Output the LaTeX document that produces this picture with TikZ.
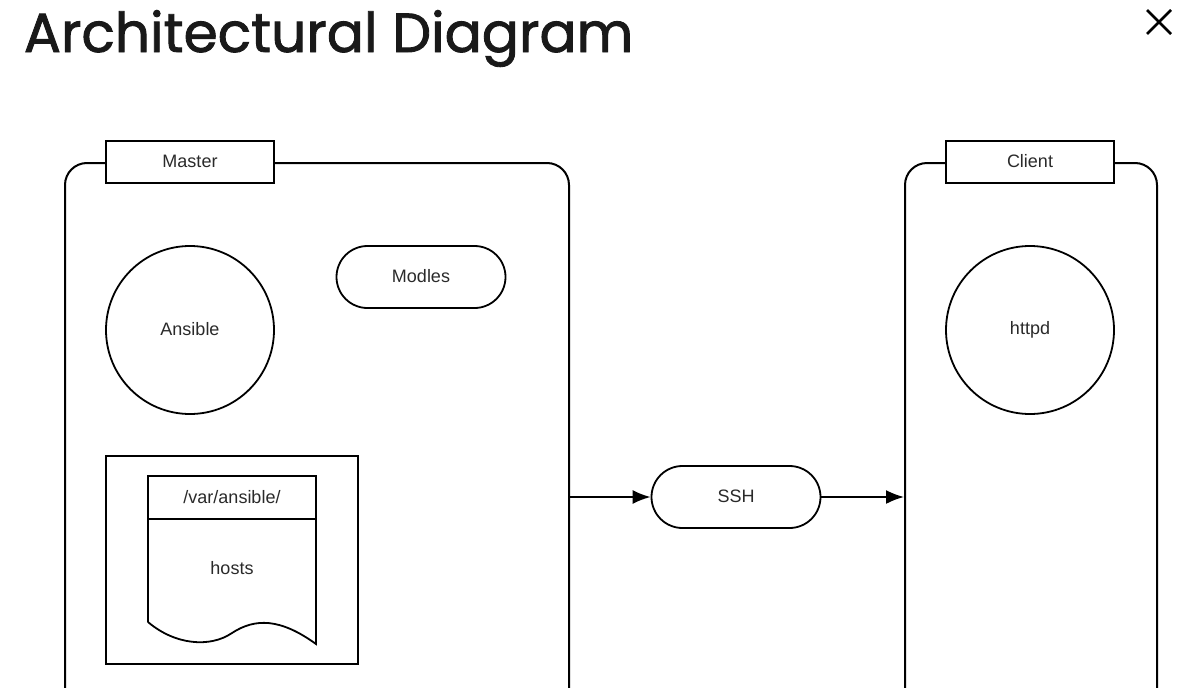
\documentclass[tikz,border=0pt]{standalone}
\usepackage{fontspec}
\setmainfont{Liberation Sans}
\newfontfamily\titlefont[FakeBold=1.6]{Poppins}
\usetikzlibrary{arrows.meta}
\definecolor{txt}{HTML}{2A2A2A}
\begin{document}
\begin{tikzpicture}[x=1pt,y=-1pt,
  line width=1.8pt,
  every node/.style={font=\fontsize{18}{20}\selectfont,text=txt},
  container/.style={draw,rectangle,rounded corners=22pt,line width=2pt,anchor=north west},
  tagbox/.style={draw,fill=white,rectangle,minimum width=168pt,minimum height=42pt,inner sep=0pt},
  circ/.style={draw,circle,minimum size=168pt,inner sep=0pt},
  pill/.style={draw,rectangle,rounded corners=31pt,minimum width=169pt,minimum height=62pt,inner sep=0pt},
  arr/.style={-{Latex[length=18pt,width=14pt]},line width=1.8pt}
]
\useasboundingbox (0,0) rectangle (1202,688);
% title and close mark
\node[anchor=base west,inner sep=0pt,text=black!90,font=\titlefont\fontsize{55}{60}\selectfont] (title) at (23,52) {Architectural Diagram};
\draw[line width=2.6pt] (1147,10) -- (1171,34) (1171,10) -- (1147,34);
% containers
\node[container,minimum width=504pt,minimum height=560pt] (master) at (64,162) {};
\node[container,minimum width=252pt,minimum height=560pt] (client) at (904,162) {};
\node[tagbox] (mastertag) at (190,162) {\raisebox{1.5pt}{Master}};
\node[tagbox] (clienttag) at (1030,162) {\raisebox{1.5pt}{Client}};
% master contents
\node[circ] (ansible) at (190,330) {\raisebox{2pt}{Ansible}};
\node[pill] (modles) at (421,277) {\raisebox{2pt}{Modles}};
\node[draw,rectangle,minimum width=252pt,minimum height=208pt,inner sep=0pt] (hostbox) at (232,560) {};
\draw (148,622) -- (148,476) -- (316,476) -- (316,644)
  .. controls (280,618) and (255,618) .. (232,633)
  .. controls (210,648) and (175,645) .. (148,622);
\draw (148,519) -- (316,519);
\node (path) at (232,497) {/var/ansible/};
\node (hosts) at (232,568) {hosts};
% client contents
\node[circ] (httpd) at (1030,330) {httpd};
% SSH
\node[pill] (ssh) at (736,497) {\raisebox{1pt}{SSH}};
\draw[arr] (master.east |- ssh.west) -- (ssh.west);
\draw[arr] (ssh.east) -- (client.west |- ssh.east);
\end{tikzpicture}
\end{document}
